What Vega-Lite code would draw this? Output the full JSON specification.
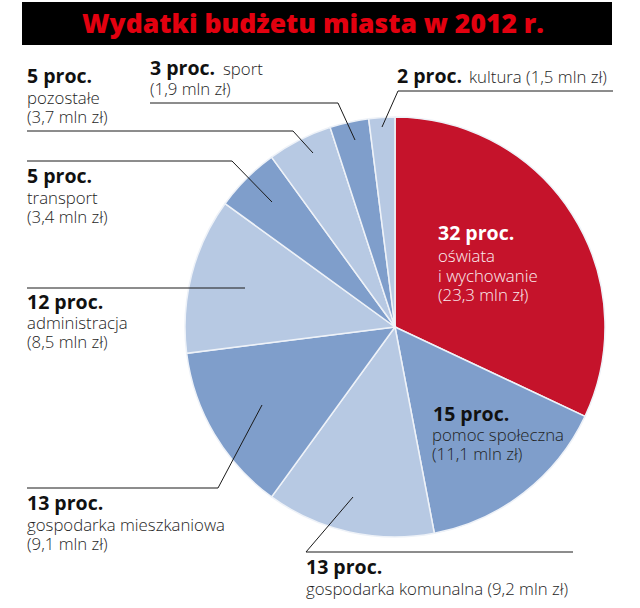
{
  "$schema": "https://vega.github.io/schema/vega-lite/v6.json",
  "width": 640,
  "height": 608,
  "autosize": {"type": "fit", "contains": "padding"},
  "padding": 0,
  "background": "white",
  "config": {"view": {"stroke": null}},
  "datasets": {
    "budzet": [
      {"kategoria": "oświata i wychowanie", "proc": 32, "mln": 23.3, "ton": "czerwony", "kol": 1},
      {"kategoria": "pomoc społeczna", "proc": 15, "mln": 11.1, "ton": "ciemny", "kol": 2},
      {"kategoria": "gospodarka komunalna", "proc": 13, "mln": 9.2, "ton": "jasny", "kol": 3},
      {"kategoria": "gospodarka mieszkaniowa", "proc": 13, "mln": 9.1, "ton": "ciemny", "kol": 4},
      {"kategoria": "administracja", "proc": 12, "mln": 8.5, "ton": "jasny", "kol": 5},
      {"kategoria": "transport", "proc": 5, "mln": 3.4, "ton": "ciemny", "kol": 6},
      {"kategoria": "pozostałe", "proc": 5, "mln": 3.7, "ton": "jasny", "kol": 7},
      {"kategoria": "sport", "proc": 3, "mln": 1.9, "ton": "ciemny", "kol": 8},
      {"kategoria": "kultura", "proc": 2, "mln": 1.5, "ton": "jasny", "kol": 9}
    ],
    "etykiety": [
      {"kategoria": "pozostałe", "rodzaj": "b", "tekst": "5 proc.", "x": 27, "y": 83},
      {"kategoria": "pozostałe", "rodzaj": "r", "tekst": "pozostałe", "x": 27, "y": 104},
      {"kategoria": "pozostałe", "rodzaj": "r", "tekst": "(3,7 mln zł)", "x": 27, "y": 123},
      {"kategoria": "sport", "rodzaj": "b", "tekst": "3 proc.", "x": 150, "y": 75},
      {"kategoria": "sport", "rodzaj": "r", "tekst": "sport", "x": 223, "y": 75},
      {"kategoria": "sport", "rodzaj": "r", "tekst": "(1,9 mln zł)", "x": 150, "y": 95},
      {"kategoria": "kultura", "rodzaj": "b", "tekst": "2 proc.", "x": 397, "y": 83},
      {"kategoria": "kultura", "rodzaj": "r", "tekst": "kultura (1,5 mln zł)", "x": 469, "y": 83},
      {"kategoria": "transport", "rodzaj": "b", "tekst": "5 proc.", "x": 27, "y": 183},
      {"kategoria": "transport", "rodzaj": "r", "tekst": "transport", "x": 27, "y": 204},
      {"kategoria": "transport", "rodzaj": "r", "tekst": "(3,4 mln zł)", "x": 27, "y": 223},
      {"kategoria": "administracja", "rodzaj": "b", "tekst": "12 proc.", "x": 27, "y": 309},
      {"kategoria": "administracja", "rodzaj": "r", "tekst": "administracja", "x": 27, "y": 329},
      {"kategoria": "administracja", "rodzaj": "r", "tekst": "(8,5 mln zł)", "x": 27, "y": 348},
      {"kategoria": "gospodarka mieszkaniowa", "rodzaj": "b", "tekst": "13 proc.", "x": 27, "y": 510},
      {"kategoria": "gospodarka mieszkaniowa", "rodzaj": "r", "tekst": "gospodarka mieszkaniowa", "x": 27, "y": 531},
      {"kategoria": "gospodarka mieszkaniowa", "rodzaj": "r", "tekst": "(9,1 mln zł)", "x": 27, "y": 550},
      {"kategoria": "gospodarka komunalna", "rodzaj": "b", "tekst": "13 proc.", "x": 306, "y": 574},
      {"kategoria": "gospodarka komunalna", "rodzaj": "r", "tekst": "gospodarka komunalna (9,2 mln zł)", "x": 306, "y": 595},
      {"kategoria": "oświata i wychowanie", "rodzaj": "b", "tekst": "32 proc.", "x": 438, "y": 240},
      {"kategoria": "oświata i wychowanie", "rodzaj": "r", "tekst": "oświata", "x": 438, "y": 262},
      {"kategoria": "oświata i wychowanie", "rodzaj": "r", "tekst": "i wychowanie", "x": 438, "y": 282},
      {"kategoria": "oświata i wychowanie", "rodzaj": "r", "tekst": "(23,3 mln zł)", "x": 438, "y": 301},
      {"kategoria": "pomoc społeczna", "rodzaj": "b", "tekst": "15 proc.", "x": 433, "y": 421},
      {"kategoria": "pomoc społeczna", "rodzaj": "r", "tekst": "pomoc społeczna", "x": 432, "y": 441},
      {"kategoria": "pomoc społeczna", "rodzaj": "r", "tekst": "(11,1 mln zł)", "x": 432, "y": 460}
    ],
    "odnosniki": [
      {"kategoria": "kultura", "i": 1, "x": 613, "y": 91},
      {"kategoria": "kultura", "i": 2, "x": 398, "y": 91},
      {"kategoria": "kultura", "i": 3, "x": 382, "y": 127},
      {"kategoria": "sport", "i": 1, "x": 150, "y": 103},
      {"kategoria": "sport", "i": 2, "x": 338, "y": 103},
      {"kategoria": "sport", "i": 3, "x": 355, "y": 140},
      {"kategoria": "pozostałe", "i": 1, "x": 27, "y": 131},
      {"kategoria": "pozostałe", "i": 2, "x": 293, "y": 131},
      {"kategoria": "pozostałe", "i": 3, "x": 313, "y": 153},
      {"kategoria": "transport", "i": 1, "x": 27, "y": 161},
      {"kategoria": "transport", "i": 2, "x": 232, "y": 161},
      {"kategoria": "transport", "i": 3, "x": 272, "y": 202},
      {"kategoria": "administracja", "i": 1, "x": 27, "y": 288},
      {"kategoria": "administracja", "i": 2, "x": 245, "y": 288},
      {"kategoria": "gospodarka mieszkaniowa", "i": 1, "x": 27, "y": 488},
      {"kategoria": "gospodarka mieszkaniowa", "i": 2, "x": 218, "y": 488},
      {"kategoria": "gospodarka mieszkaniowa", "i": 3, "x": 262, "y": 405},
      {"kategoria": "gospodarka komunalna", "i": 1, "x": 573, "y": 552},
      {"kategoria": "gospodarka komunalna", "i": 2, "x": 306, "y": 552},
      {"kategoria": "gospodarka komunalna", "i": 3, "x": 353, "y": 497}
    ]
  },
  "layer": [
    {
      "data": {"values": [{}]},
      "mark": {"type": "rect", "color": "#000000"},
      "encoding": {
        "x": {"datum": 22, "type": "quantitative", "scale": {"domain": [0, 640], "nice": false, "zero": false}, "axis": null},
        "x2": {"datum": 612},
        "y": {"datum": 2, "type": "quantitative", "scale": {"domain": [0, 608], "nice": false, "zero": false, "reverse": true}, "axis": null},
        "y2": {"datum": 45}
      }
    },
    {
      "data": {"values": [{}]},
      "mark": {"type": "text", "text": "Wydatki budżetu miasta w 2012 r.", "font": "Open Sans", "fontWeight": 800, "fontSize": 26.5, "color": "#e3000f", "align": "center", "baseline": "alphabetic"},
      "encoding": {
        "x": {"datum": 313, "type": "quantitative", "scale": {"domain": [0, 640], "nice": false, "zero": false}, "axis": null},
        "y": {"datum": 33, "type": "quantitative", "scale": {"domain": [0, 608], "nice": false, "zero": false, "reverse": true}, "axis": null}
      }
    },
    {
      "data": {"name": "budzet"},
      "mark": {"type": "arc", "outerRadius": 210, "stroke": "#eef2f8", "strokeWidth": 1.5},
      "encoding": {
        "theta": {"field": "proc", "type": "quantitative", "stack": true},
        "order": {"field": "kol", "type": "quantitative"},
        "color": {"field": "ton", "type": "nominal", "legend": null, "scale": {"domain": ["czerwony", "ciemny", "jasny"], "range": ["#c5132b", "#7f9ecb", "#b7c9e3"]}},
        "x": {"datum": 395, "type": "quantitative", "scale": {"domain": [0, 640], "nice": false, "zero": false}, "axis": null},
        "y": {"datum": 327, "type": "quantitative", "scale": {"domain": [0, 608], "nice": false, "zero": false, "reverse": true}, "axis": null}
      }
    },
    {
      "data": {"name": "odnosniki"},
      "mark": {"type": "line", "color": "#1a1a1a", "strokeWidth": 1},
      "encoding": {
        "x": {"field": "x", "type": "quantitative", "scale": {"domain": [0, 640], "nice": false, "zero": false}, "axis": null},
        "y": {"field": "y", "type": "quantitative", "scale": {"domain": [0, 608], "nice": false, "zero": false, "reverse": true}, "axis": null},
        "detail": {"field": "kategoria"},
        "order": {"field": "i", "type": "quantitative"}
      }
    },
    {
      "data": {"name": "etykiety"},
      "transform": [{"filter": "datum.rodzaj === 'b'"}],
      "mark": {"type": "text", "font": "Open Sans", "fontWeight": "bold", "fontSize": 19.5, "align": "left", "baseline": "alphabetic"},
      "encoding": {
        "x": {"field": "x", "type": "quantitative", "scale": {"domain": [0, 640], "nice": false, "zero": false}, "axis": null},
        "y": {"field": "y", "type": "quantitative", "scale": {"domain": [0, 608], "nice": false, "zero": false, "reverse": true}, "axis": null},
        "text": {"field": "tekst"},
        "color": {"condition": {"test": "datum.kategoria === 'oświata i wychowanie'", "value": "#ffffff"}, "value": "#111111"}
      }
    },
    {
      "data": {"name": "etykiety"},
      "transform": [{"filter": "datum.rodzaj === 'r'"}],
      "mark": {"type": "text", "font": "Open Sans", "fontWeight": 300, "fontSize": 16.8, "align": "left", "baseline": "alphabetic"},
      "encoding": {
        "x": {"field": "x", "type": "quantitative", "scale": {"domain": [0, 640], "nice": false, "zero": false}, "axis": null},
        "y": {"field": "y", "type": "quantitative", "scale": {"domain": [0, 608], "nice": false, "zero": false, "reverse": true}, "axis": null},
        "text": {"field": "tekst"},
        "color": {"condition": {"test": "datum.kategoria === 'oświata i wychowanie'", "value": "#fbeef0"}, "value": "#1e1e1e"}
      }
    }
  ]
}
